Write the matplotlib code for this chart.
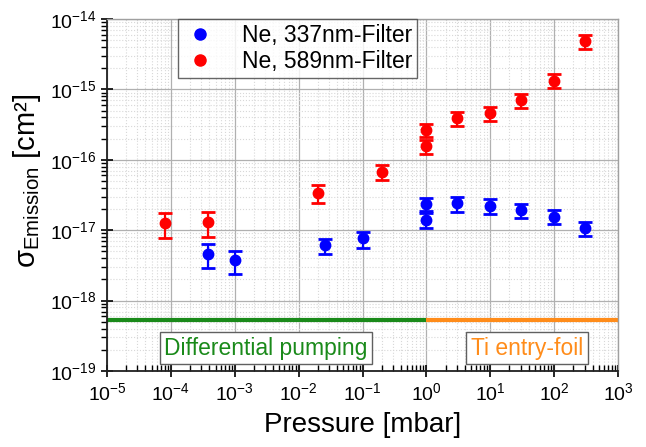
import matplotlib
matplotlib.use("Agg")
import matplotlib.pyplot as plt
import numpy as np
from matplotlib.ticker import FixedLocator, NullFormatter, LogFormatterSciNotation
from matplotlib.lines import Line2D

plt.rcParams['font.family'] = ['Liberation Sans', 'DejaVu Sans']
plt.rcParams['mathtext.fontset'] = 'custom'
plt.rcParams['mathtext.rm'] = 'Liberation Sans'
plt.rcParams['mathtext.it'] = 'Liberation Sans:italic'
plt.rcParams['mathtext.bf'] = 'Liberation Sans:bold'

# Ne, 337nm-Filter (blue)
p_blue = [3.8e-4, 1.0e-3, 2.55e-2, 1.0e-1, 1.0, 1.0, 3.0, 10.0, 30.0, 100.0, 300.0]
s_blue = [4.6e-18, 3.8e-18, 6.1e-18, 7.7e-18, 2.36e-17, 1.40e-17, 2.46e-17, 2.21e-17, 1.94e-17, 1.56e-17, 1.06e-17]
s_blue_hi = [6.4e-18, 5.1e-18, 7.6e-18, 9.5e-18, 2.9e-17, 1.75e-17, 3.0e-17, 2.77e-17, 2.38e-17, 1.92e-17, 1.31e-17]
s_blue_lo = [2.9e-18, 2.4e-18, 4.6e-18, 5.6e-18, 1.9e-17, 1.09e-17, 1.83e-17, 1.70e-17, 1.49e-17, 1.21e-17, 8.2e-18]

# Ne, 589nm-Filter (red)
p_red = [8.0e-5, 3.8e-4, 2.0e-2, 2.0e-1, 1.0, 1.0, 3.0, 10.0, 30.0, 100.0, 300.0]
s_red = [1.28e-17, 1.3e-17, 3.4e-17, 6.8e-17, 2.65e-16, 1.57e-16, 3.9e-16, 4.6e-16, 7.1e-16, 1.33e-15, 4.8e-15]
s_red_hi = [1.78e-17, 1.8e-17, 4.4e-17, 8.5e-17, 3.2e-16, 1.93e-16, 4.7e-16, 5.6e-16, 8.7e-16, 1.65e-15, 6.0e-15]
s_red_lo = [7.8e-18, 7.9e-18, 2.4e-17, 5.1e-17, 2.1e-16, 1.21e-16, 3.0e-16, 3.5e-16, 5.5e-16, 1.04e-15, 3.75e-15]

# Region lines
boundary_level = 5.3e-19
diff_range = [1e-5, 1.0]
foil_range = [1.0, 1e3]

# Axis decades
x_exps = list(range(-5, 4))
y_exps = list(range(-19, -13))

fig = plt.figure(figsize=(6.46, 4.47), dpi=100)
ax = fig.add_axes([107/646, 1 - 371/447, (618-107)/646, (371-19)/447])
ax.set_xscale('log')
ax.set_yscale('log')
ax.set_xlim(10.0**x_exps[0], 10.0**x_exps[-1])
ax.set_ylim(10.0**y_exps[0], 10.0**y_exps[-1])

def majors(exps):
    return [10.0**e for e in exps]

def minors(exps):
    return [m * 10.0**e for e in exps[:-1] for m in range(2, 10)]

ax.xaxis.set_major_locator(FixedLocator(majors(x_exps)))
ax.xaxis.set_minor_locator(FixedLocator(minors(x_exps)))
ax.yaxis.set_major_locator(FixedLocator(majors(y_exps)))
ax.yaxis.set_minor_locator(FixedLocator(minors(y_exps)))
ax.xaxis.set_major_formatter(LogFormatterSciNotation())
ax.yaxis.set_major_formatter(LogFormatterSciNotation())
ax.xaxis.set_minor_formatter(NullFormatter())
ax.yaxis.set_minor_formatter(NullFormatter())

ax.grid(True, which='major', color='#b0b0b0', linestyle='-', linewidth=0.9, zorder=0)
ax.grid(True, which='minor', color='#d8d8d8', linestyle=':', linewidth=0.8, zorder=0)
ax.set_axisbelow(True)

ax.plot(diff_range, [boundary_level]*2, color='#1a8a1a', lw=3, solid_capstyle='butt', zorder=2)
ax.plot(foil_range, [boundary_level]*2, color='#ff8c1a', lw=3, solid_capstyle='butt', zorder=2)

def draw(p, s, hi, lo, color):
    s = np.array(s); hi = np.array(hi); lo = np.array(lo)
    ax.errorbar(p, s, yerr=[s - lo, hi - s], fmt='o', color=color, ms=7.5,
                elinewidth=1.6, capsize=5, capthick=2, zorder=3)

draw(p_blue, s_blue, s_blue_hi, s_blue_lo, '#0000ff')
draw(p_red, s_red, s_red_hi, s_red_lo, '#ff0000')

ax.tick_params(axis='x', which='major', direction='inout', length=8, width=1.2, labelsize=14, pad=4)
ax.tick_params(axis='x', which='minor', direction='in', length=4, width=1.0)
ax.tick_params(axis='y', which='major', direction='inout', length=8, width=1.2, labelsize=14)
ax.tick_params(axis='y', which='minor', direction='out', length=4, width=1.0)

for side in ['left', 'bottom']:
    ax.spines[side].set_color('#202020')
    ax.spines[side].set_linewidth(1.3)
for side in ['top', 'right']:
    ax.spines[side].set_color('#a0a0a0')
    ax.spines[side].set_linewidth(1.0)

ax.set_xlabel('Pressure [mbar]', fontsize=20, labelpad=6)
ax.set_ylabel(r'$\mathregular{\sigma_{Emission}}$ [cm²]', fontsize=21)
ax.yaxis.set_label_coords(-0.125, 0.54)

handles = [Line2D([], [], marker='o', color='#0000ff', ls='none', ms=8),
           Line2D([], [], marker='o', color='#ff0000', ls='none', ms=8)]
labels = ['Ne, 337nm-Filter', 'Ne, 589nm-Filter']
leg = ax.legend(handles, labels, loc='upper left', bbox_to_anchor=(0.138, 1.0), fontsize=16.5,
                frameon=True, fancybox=False, edgecolor='#404040', handletextpad=1.0,
                borderpad=0.2, labelspacing=0.15, handlelength=1.6, borderaxespad=0.0)
leg.get_frame().set_linewidth(1.0)

def pix_text(xp, yp, s, color):
    fx = (xp - 107) / (618 - 107)
    fy = (371 - yp) / (371 - 19)
    ax.text(fx, fy, s, transform=ax.transAxes, fontsize=16.5, color=color, ha='center', va='center',
            bbox=dict(boxstyle='square,pad=0.2', facecolor='white', edgecolor='#606060', linewidth=1.0),
            zorder=4)

pix_text(266, 348, 'Differential pumping', '#1a8a1a')
pix_text(527, 348, 'Ti entry-foil', '#ff8c1a')

fig.savefig('out.png', dpi=100)
